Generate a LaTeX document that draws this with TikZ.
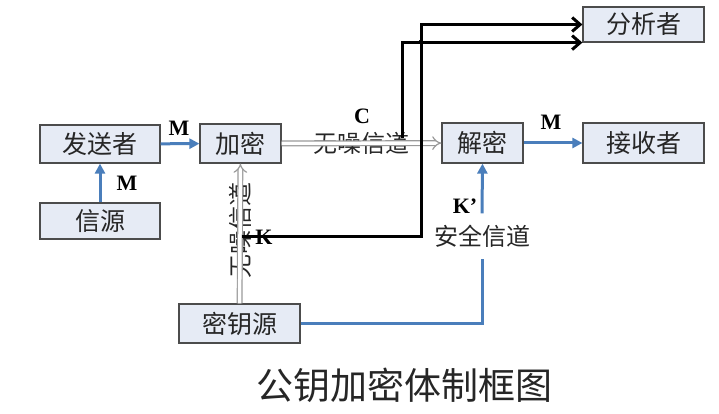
\documentclass[tikz,border=0pt]{standalone}
\usepackage{fontspec}
\setmainfont{Liberation Serif}
\newfontfamily\cjk{Noto Sans CJK SC}
\usepackage{xcolor}
\usepackage{tikz}
\usetikzlibrary{arrows.meta}
\definecolor{boxfill}{HTML}{E6EBF5}
\definecolor{arrblue}{HTML}{4A7EBB}

\begin{document}
\begin{tikzpicture}[x=1pt,y=-1pt,
		box/.style={draw=black!70, line width=1.2pt, fill=boxfill, inner sep=0pt, text=black!85, font=\cjk\fontsize{25}{25}\selectfont},
		blueline/.style={-{Triangle[length=10pt,width=10pt]}, line width=3pt, arrblue},
		blackline/.style={-{Straight Barb[length=8pt,width=14pt]}, line width=3pt, black},
		channel/.style={-{Implies}, draw=black!40, double=white, double distance=3.5pt, line width=1.2pt},
		letter/.style={font=\bfseries\fontsize{22}{22}\selectfont},
		chtext/.style={text=black!85, font=\cjk\fontsize{24}{24}\selectfont}]
			\useasboundingbox (0,0) rectangle (719,414);

			%% boxes
			\node[box, minimum width=120pt, minimum height=38pt] (fasong) at (100,144) {发送者};
			\node[box, minimum width=120pt, minimum height=36pt] (xinyuan) at (100,221) {信源};
			\node[box, minimum width=81pt, minimum height=39pt] (jiami) at (240.5,143.5) {加密};
			\node[box, minimum width=81pt, minimum height=40pt] (jiemi) at (482.5,143) {解密};
			\node[box, minimum width=121pt, minimum height=40pt] (jieshou) at (643.5,143) {接收者};
			\node[box, minimum width=121pt, minimum height=35pt] (fenxi) at (643.5,24.5) {分析者};
			\node[box, minimum width=121pt, minimum height=39pt] (miyao) at (239.5,323.5) {密钥源};

			%% labels
			\node[letter] (m1) at (127,183) {M};
			\node[letter] (m2) at (179,128) {M};
			\node[letter] (m3) at (551,122) {M};
			\node[letter] (c) at (362,116) {C};
			\node[letter] (k) at (264,237) {K};
			\node[letter] (k2) at (465,206) {K’};
			\node[chtext] (wuzao1) at (361,143) {无噪信道};
			\node[chtext, rotate=90] (wuzao2) at (240,230) {无噪信道};
			\node[chtext, minimum height=45pt, inner sep=0pt] (anquan) at (482,236) {安全信道};
			\node[font=\cjk\fontsize{37}{37}\selectfont, text=black!85] (title) at (404,385) {公钥加密体制框图};

			%% points
			\coordinate (kstart) at (242,236);
			\coordinate (kcorner) at (421,236);
			\coordinate (ctap) at (402,138);
			\coordinate (cross) at (421,42);

			%% lines
			\draw[blueline] (xinyuan) -- (fasong);
			\draw[blueline] (fasong) -- (jiami);
			\draw[blueline] (jiemi) -- (jieshou);
			\draw[line width=3pt, arrblue] (miyao.east) -| (anquan.south);
			\draw[blueline] (anquan.north) -- (jiemi.south);
			\draw[channel] (jiami) -- (jiemi);
			\draw[channel] (miyao) -- (jiami);
			\draw[blackline] (kstart) -- (kcorner) |- (fenxi.west);
			\draw[blackline] (ctap) |- (fenxi.south west);
			\fill (cross) circle (2.4pt);
		\end{tikzpicture}
\end{document}
